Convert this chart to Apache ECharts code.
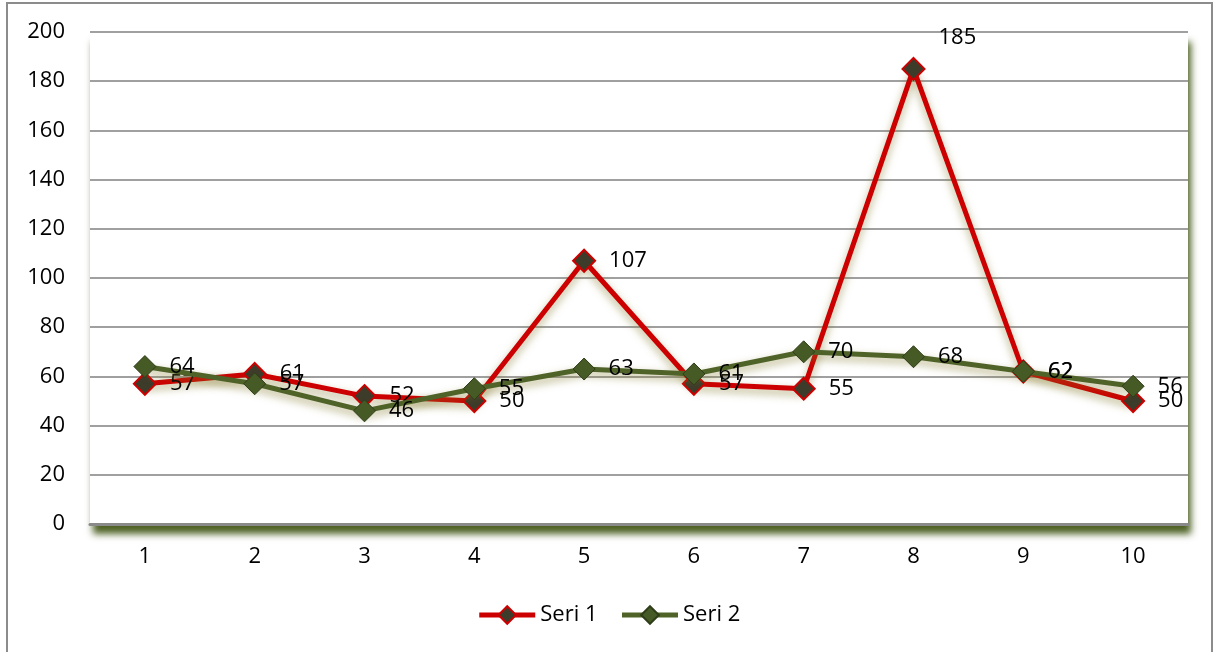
<!DOCTYPE html>
<html>
<head>
<meta charset="utf-8">
<script src="https://cdn.jsdelivr.net/npm/echarts@6/dist/echarts.min.js"></script>
<style>
html,body{margin:0;padding:0;background:#fff;}
#frame{position:absolute;left:6px;top:2px;width:1207px;height:670px;border:2px solid #8c8c8c;box-sizing:border-box;}
#chart{position:absolute;left:0;top:0;width:1217px;height:652px;}
</style>
</head>
<body>
<div id="frame"></div>
<div id="chart"></div>
<script>
const categories = ['1','2','3','4','5','6','7','8','9','10'];
const seri1 = [57, 61, 52, 50, 107, 57, 55, 185, 62, 50];
const seri2 = [64, 57, 46, 55, 63, 61, 70, 68, 62, 56];
const seriesNames = ['Seri 1', 'Seri 2'];

const chart = echarts.init(document.getElementById('chart'), null, {renderer:'canvas'});
const font = '"Open Sans", Lato, "Liberation Sans", sans-serif';
const fs = 22;

function mkData(arr, special) {
  return arr.map((v, i) => {
    if (special && special[i]) return {value: v, label: special[i]};
    return v;
  });
}

const option = {
  animation: false,
  backgroundColor: 'transparent',
  textStyle: {fontFamily: font},
  grid: {
    left: 90, right: 29, top: 32, bottom: 128,
    show: true, backgroundColor: '#fff', borderWidth: 0,
    shadowColor: 'rgba(70,90,25,0.95)', shadowBlur: 7, shadowOffsetX: 3, shadowOffsetY: 10
  },
  legend: {
    bottom: 21, left: 'center',
    itemWidth: 56, itemHeight: 22, itemGap: 22,
    lineStyle: {width: 5},
    textStyle: {fontSize: fs, color: '#000', fontFamily: font},
    data: seriesNames
  },
  xAxis: {
    type: 'category', data: categories, boundaryGap: true,
    axisLine: {show: true, lineStyle: {color: '#8a8a8a', width: 3}},
    axisTick: {show: false},
    axisLabel: {fontSize: fs, color: '#000', margin: 22, fontFamily: font}
  },
  yAxis: {
    type: 'value', min: 0, max: 200, interval: 20,
    axisLine: {show: false}, axisTick: {show: false},
    axisLabel: {fontSize: fs, color: '#000', margin: 25, fontFamily: font},
    splitLine: {lineStyle: {color: '#a0a0a0', width: 2}}
  },
  series: [
    {
      name: seriesNames[0], type: 'line', data: mkData(seri1, {7: {offset: [0, -31]}}),
      symbol: 'diamond', symbolSize: 22, z: 2,
      lineStyle: {color: '#cc0000', width: 5, shadowColor: 'rgba(130,120,40,0.6)', shadowBlur: 8, shadowOffsetY: 4},
      itemStyle: {color: '#3d3b2a', borderColor: '#cc0000', borderWidth: 2},
      label: {show: true, position: 'right', distance: 13, fontSize: fs, color: '#000', fontFamily: font}
    },
    {
      name: seriesNames[1], type: 'line', data: seri2,
      symbol: 'diamond', symbolSize: 22, z: 3,
      lineStyle: {color: '#4f6228', width: 5, shadowColor: 'rgba(130,120,40,0.6)', shadowBlur: 8, shadowOffsetY: 4},
      itemStyle: {color: '#465a26', borderColor: '#2f3d18', borderWidth: 1},
      label: {show: true, position: 'right', distance: 13, fontSize: fs, color: '#000', fontFamily: font}
    }
  ]
};
chart.setOption(option);
</script>
</body>
</html>
